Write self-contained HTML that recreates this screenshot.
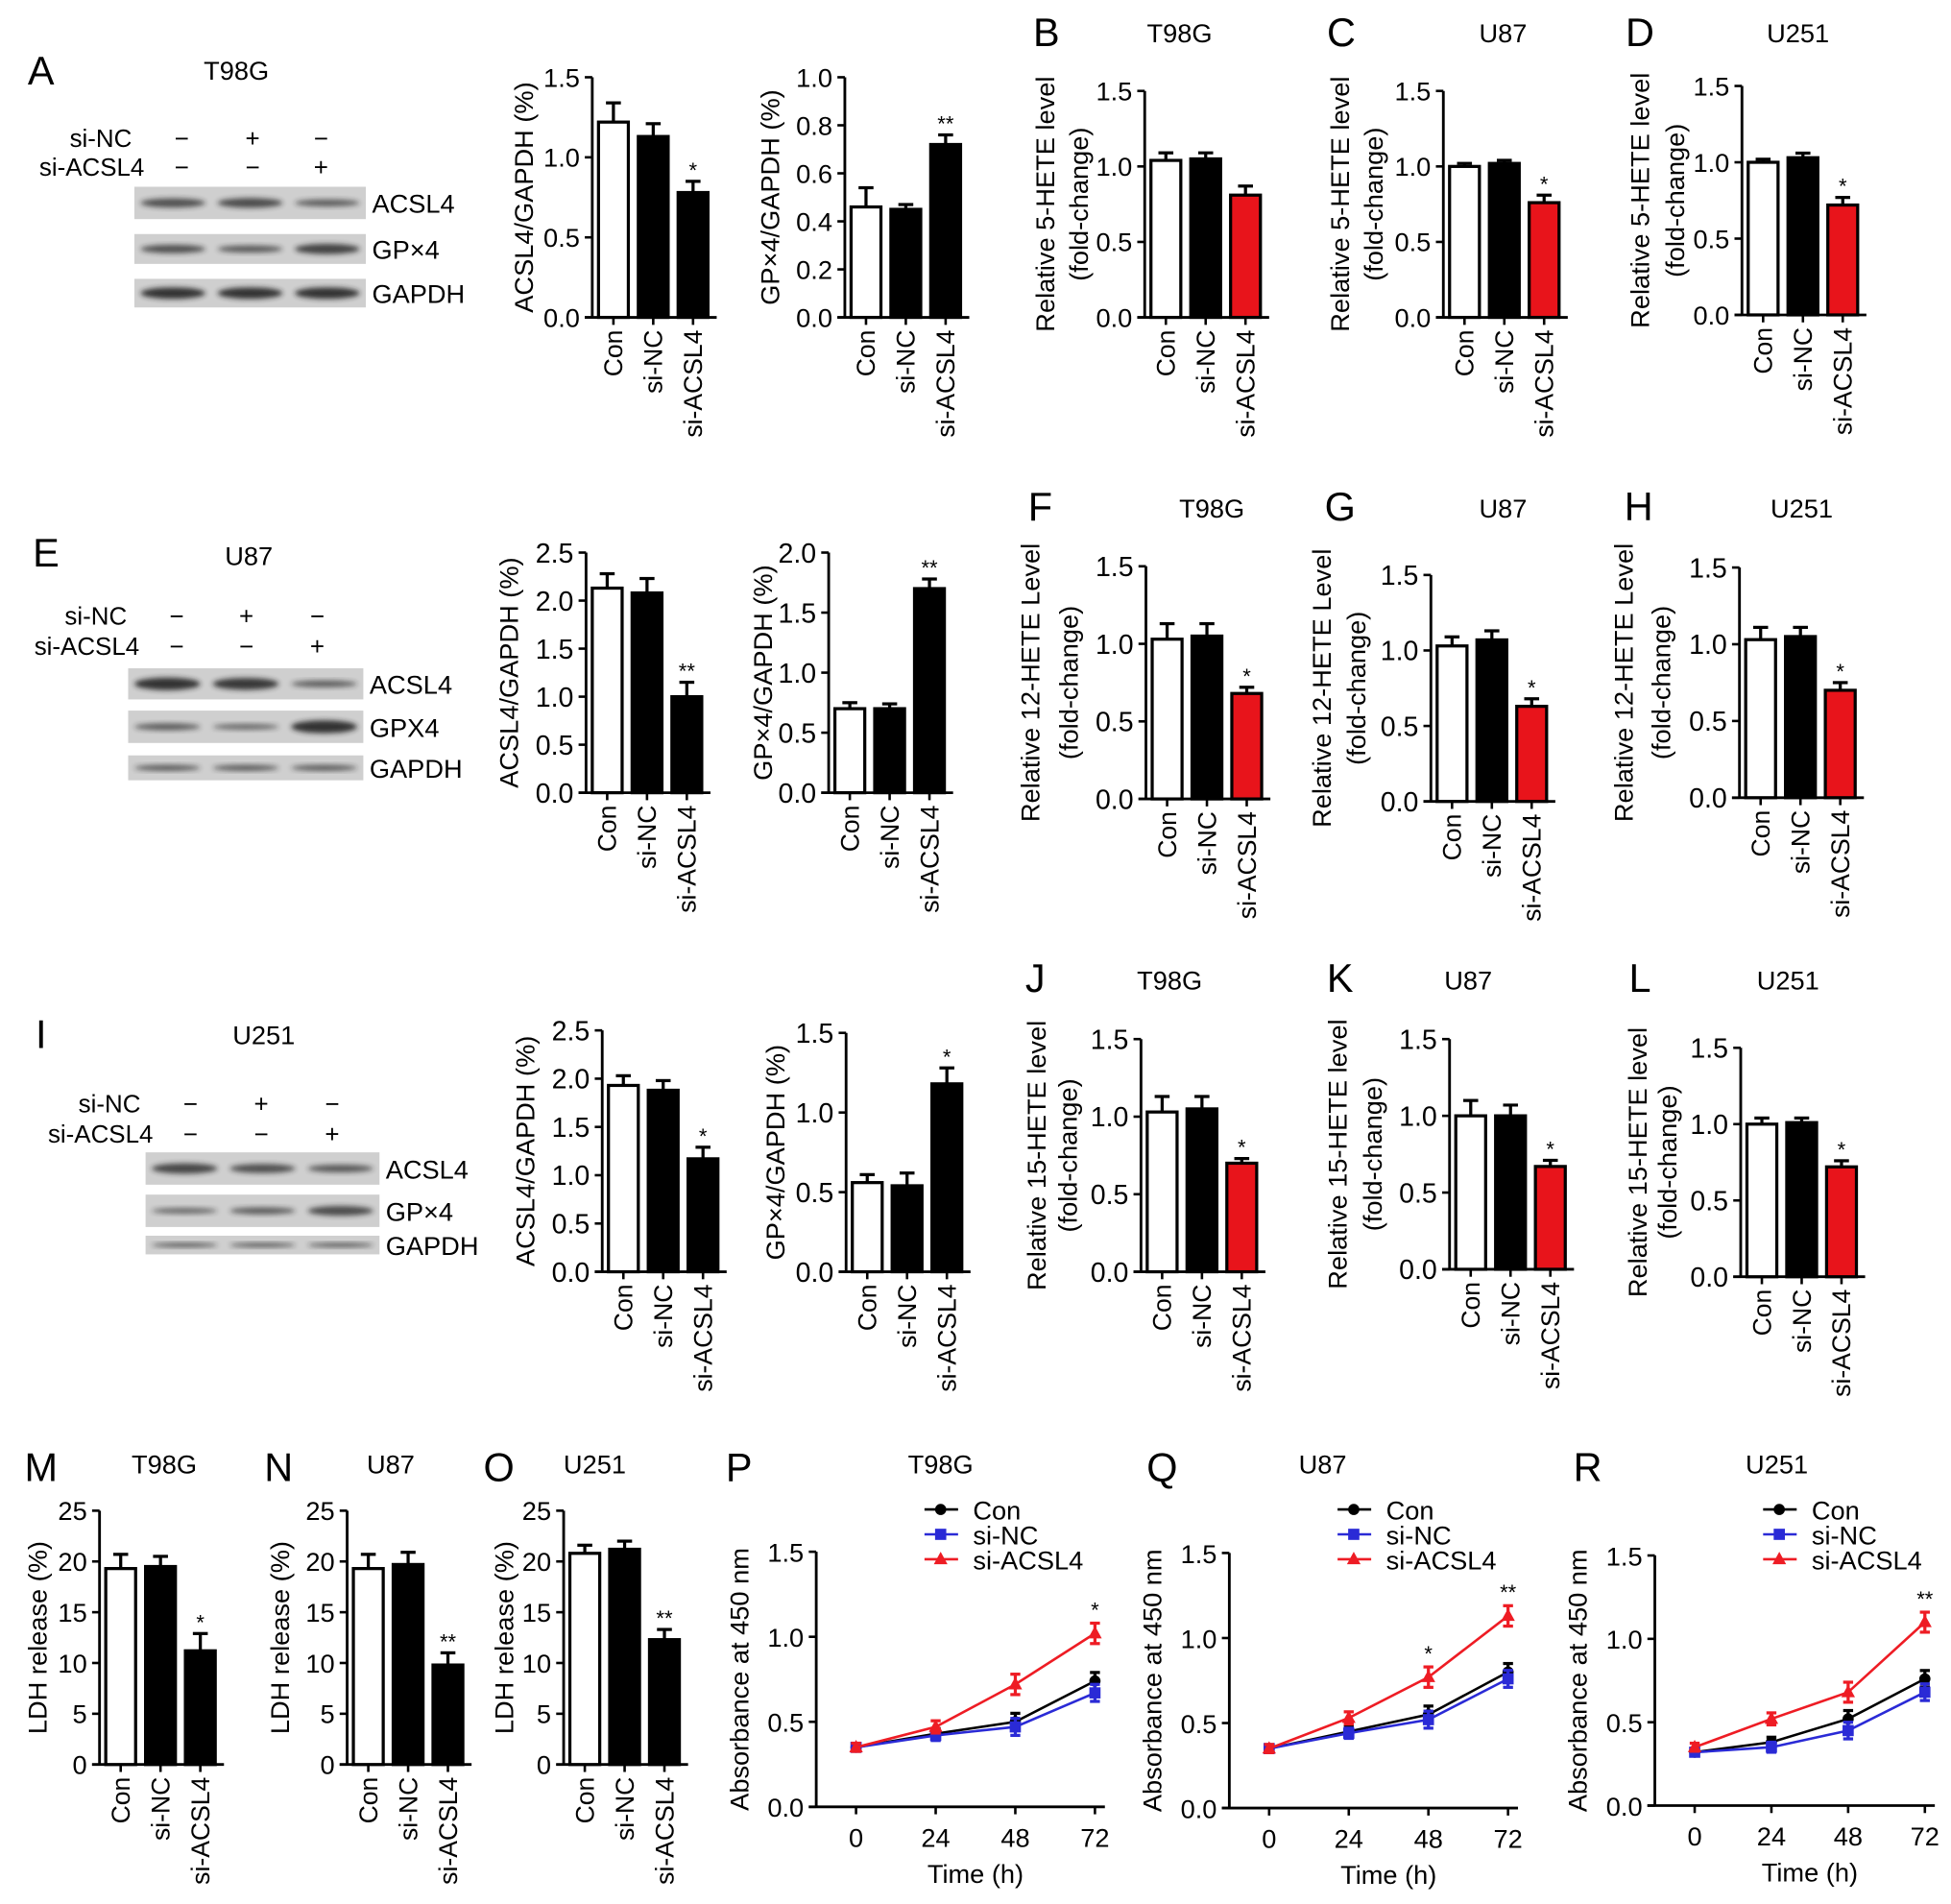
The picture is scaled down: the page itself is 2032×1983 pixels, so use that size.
<!DOCTYPE html>
<html><head><meta charset="utf-8"><style>
html,body{margin:0;padding:0;background:#fff;}
svg{display:block;font-family:"Liberation Sans",Arial,sans-serif;}
</style></head><body>
<svg id="fig" width="2032" height="1983" viewBox="0 0 1568 1530" xmlns="http://www.w3.org/2000/svg">
<defs><filter id="blur" x="-20%" y="-50%" width="140%" height="200%"><feGaussianBlur stdDeviation="2"/></filter></defs>
</svg>
<script>
const categories=["Con","si-NC","si-ACSL4"];
const timeLabels=[0,24,48,72];
const seriesNames=["Con","si-NC","si-ACSL4"];
// bar values
const valsA1=[1.22,1.13,0.78], errA1=[0.12,0.08,0.07];
const valsA2=[0.46,0.45,0.72], errA2=[0.08,0.02,0.04];
const valsB=[1.04,1.05,0.81], errB=[0.05,0.04,0.06];
const valsC=[1.0,1.02,0.76], errC=[0.02,0.02,0.05];
const valsD=[1.0,1.03,0.72], errD=[0.02,0.03,0.05];
const valsE1=[2.13,2.08,1.0], errE1=[0.15,0.15,0.15];
const valsE2=[0.70,0.70,1.70], errE2=[0.05,0.04,0.08];
const valsF=[1.03,1.05,0.68], errF=[0.10,0.08,0.04];
const valsG=[1.03,1.07,0.63], errG=[0.06,0.06,0.05];
const valsH=[1.03,1.05,0.70], errH=[0.08,0.06,0.05];
const valsI1=[1.93,1.88,1.17], errI1=[0.10,0.10,0.12];
const valsI2=[0.56,0.54,1.18], errI2=[0.05,0.08,0.10];
const valsJ=[1.03,1.05,0.70], errJ=[0.10,0.08,0.03];
const valsK=[1.0,1.0,0.67], errK=[0.10,0.07,0.04];
const valsL=[1.0,1.01,0.72], errL=[0.04,0.03,0.04];
const valsM=[19.3,19.5,11.2], errM=[1.4,1.0,1.7];
const valsN=[19.3,19.7,9.8], errN=[1.4,1.2,1.2];
const valsO=[20.8,21.2,12.3], errO=[0.8,0.8,1.0];
// line values
const conP=[0.35,0.43,0.50,0.74], ncP=[0.35,0.42,0.47,0.67], acP=[0.35,0.47,0.72,1.02];
const conQ=[0.35,0.45,0.55,0.80], ncQ=[0.35,0.44,0.52,0.76], acQ=[0.35,0.53,0.77,1.13];
const conR=[0.32,0.38,0.52,0.76], ncR=[0.32,0.35,0.45,0.68], acR=[0.35,0.52,0.68,1.10];
const errLine=[0.02,0.03,0.05,0.05];

const NS="http://www.w3.org/2000/svg";
const svg=document.getElementById('fig');
function el(tag,attrs,parent,text){const e=document.createElementNS(NS,tag);for(const k in attrs)e.setAttribute(k,attrs[k]);if(text!==undefined)e.textContent=text;(parent||svg).appendChild(e);return e;}
function grp(name){const g=el('g',{},svg);


return g;}
function txt(parent,x,y,s,size,anchor,name,extra){const t=el('text',Object.assign({x:x,y:y,'font-size':size,'text-anchor':anchor||'middle',fill:'#000'},extra||{}),parent,s);


return t;}
function vtxt(parent,cx,cy,s,size,anchor,name){const bx=cx+0.35*size;return txt(parent,bx,cy,s,size,anchor,name,{transform:`rotate(-90 ${bx} ${cy})`});}

function letter(x,y,s){txt(svg,x,y,s,32,'middle','panel-letter-'+s.toLowerCase());}

function barChart(id,c){
  const g=grp('bar-chart-'+id);
  const fs=c.fs||22;
  const ys=v=>c.y0-(v/c.max)*(c.y0-c.yTop);
  el('line',{x1:c.ax,y1:c.yTop,x2:c.ax,y2:c.y0,stroke:'#000','stroke-width':2.2},g);
  el('line',{x1:c.ax-6,y1:c.y0,x2:c.ax+100,y2:c.y0,stroke:'#000','stroke-width':2.2},g);
  for(let v=0;v<=c.max+1e-9;v+=c.step){const y=ys(v);
    el('line',{x1:c.ax-6,y1:y,x2:c.ax,y2:y,stroke:'#000','stroke-width':2},g);
    txt(g,c.ax-10,y+fs*0.36,v.toFixed(c.dec),fs,'end','y-tick-label');}
  const mid=(c.yTop+c.y0)/2;
  c.lc.forEach((off,i)=>{vtxt(g,c.ax+off,mid,c.ylab[i],21,'middle','y-axis-title');});
  c.vals.forEach((v,i)=>{
    const cx=c.ax+17+i*32, bx=cx-12;
    const fill=i===0?'#fff':(i===2&&c.red?'#e8141b':'#000');
    const r=el('rect',{x:bx,y:ys(v),width:24,height:c.y0-ys(v),fill:fill,stroke:'#000','stroke-width':2.5},g);
    
    
    const ye=ys(v+c.errs[i]);
    el('line',{x1:cx,y1:ys(v),x2:cx,y2:ye,stroke:'#000','stroke-width':2.5},g);
    el('line',{x1:cx-6,y1:ye,x2:cx+6,y2:ye,stroke:'#000','stroke-width':2.5},g);
    el('line',{x1:cx,y1:c.y0,x2:cx,y2:c.y0+6,stroke:'#000','stroke-width':2},g);
    if(i===2&&c.star)txt(g,cx,ye-3,c.star,17,'middle','significance-star');
    vtxt(g,cx,c.y0+10,categories[i],20.5,'end','x-tick-label');
  });
  if(c.title)txt(g,c.tx,c.ty,c.title,21,'middle','chart-title');
}

function blot(id,c){
  const g=grp('western-blot-'+id);
  txt(g,c.tx,c.ty,c.title,21,'middle','blot-title');
  txt(g,c.signX[0]-40,c.s1,'si-NC',20,'end','si-nc-label');
  txt(g,c.signX[0]-30,c.s2,'si-ACSL4',20,'end','si-acsl4-label');
  const s1=['−','+','−'],s2=['−','−','+'];
  c.signX.forEach((x,i)=>{txt(g,x,c.s1,s1[i],20,'middle','sign');txt(g,x,c.s2,s2[i],20,'middle','sign');});
  c.rows.forEach((r,j)=>{
    el('rect',{x:c.x0,y:r[0],width:c.x1-c.x0,height:r[1]-r[0],fill:'#cfcfcf'},g);
    const w=(c.x1-c.x0)/3;
    for(let i=0;i<3;i++){
      el('ellipse',{cx:c.x0+w*(i+0.5),cy:(r[0]+r[1])/2,rx:w*0.42,ry:(r[1]-r[0])*0.2*c.int[j][i],fill:'#222',opacity:0.35+0.55*c.int[j][i],filter:'url(#blur)'},g);
    }
    txt(g,c.x1+5,(r[0]+r[1])/2+8,c.names[j],21,'start','band-label');
  });
}

function lineChart(id,c){
  const g=grp('line-chart-'+id);
  const ys=v=>c.y0-(v/1.5)*(c.y0-c.yTop);
  const xs=t=>c.x0+(t/72)*(c.x72-c.x0);
  el('line',{x1:c.ax,y1:c.yTop,x2:c.ax,y2:c.y0,stroke:'#000','stroke-width':2.2},g);
  el('line',{x1:c.ax-6,y1:c.y0,x2:c.x72+8,y2:c.y0,stroke:'#000','stroke-width':2.2},g);
  for(let v=0;v<=1.5001;v+=0.5){const y=ys(v);el('line',{x1:c.ax-6,y1:y,x2:c.ax,y2:y,stroke:'#000','stroke-width':2},g);txt(g,c.ax-10,y+8,v.toFixed(1),21,'end','y-tick-label');}
  timeLabels.forEach(t=>{const x=xs(t);el('line',{x1:x,y1:c.y0,x2:x,y2:c.y0+6,stroke:'#000','stroke-width':2},g);txt(g,x,c.y0+32,String(t),21,'middle','x-tick-label');});
  txt(g,(c.x0+c.x72)/2,c.y0+61,'Time (h)',21,'middle','x-axis-title');
  const mid=(c.yTop+c.y0)/2;
  vtxt(g,c.ax-62,mid,'Absorbance at 450 nm',21,'middle','y-axis-title');
  const cols=['#000','#2a2ad6','#ee1c24'];
  [c.con,c.nc,c.ac].forEach((s,k)=>{
    const pts=s.map((v,i)=>xs(timeLabels[i])+','+ys(v)).join(' ');
    const pl=el('polyline',{points:pts,fill:'none',stroke:cols[k],'stroke-width':2},g);
    
    
    s.forEach((v,i)=>{const x=xs(timeLabels[i]),y=ys(v),e=errLine[i]*(k===2?1.2:1);
      el('line',{x1:x,y1:ys(v-e),x2:x,y2:ys(v+e),stroke:cols[k],'stroke-width':2.5},g);
      el('line',{x1:x-4,y1:ys(v+e),x2:x+4,y2:ys(v+e),stroke:cols[k],'stroke-width':2.5},g);
      el('line',{x1:x-4,y1:ys(v-e),x2:x+4,y2:ys(v-e),stroke:cols[k],'stroke-width':2.5},g);
      marker(g,k,x,y,cols[k]);
    });
  });
  c.stars.forEach(([i,s])=>{const x=xs(timeLabels[i]);txt(g,x,ys(c.ac[i]+0.08)-2,s,17,'middle','significance-star');});
  const lx=c.x0+55;
  seriesNames.forEach((n,k)=>{const y=c.ly+k*20;
    el('line',{x1:lx,y1:y,x2:lx+27,y2:y,stroke:cols[k],'stroke-width':2},g);
    marker(g,k,lx+13,y,cols[k]);
    txt(g,c.x0+94,y+8,n,21,'start','legend-entry');});
  txt(g,c.tx,c.ty,c.title,21,'middle','chart-title');
}
function marker(g,k,x,y,col){
  if(k===0)el('circle',{cx:x,cy:y,r:4.5,fill:col},g);
  else if(k===1)el('rect',{x:x-4.5,y:y-4.5,width:9,height:9,fill:col},g);
  else el('polygon',{points:`${x},${y-6} ${x-5.5},${y+4} ${x+5.5},${y+4}`,fill:col},g);
}
const Y1=['ACSL4/GAPDH (%)'], Y2=['GP×4/GAPDH (%)'];
const H5=['Relative 5-HETE level','(fold-change)'], H12=['Relative 12-HETE Level','(fold-change)'], H15=['Relative 15-HETE level','(fold-change)'];

// Row 1
letter(33,68,'A');
blot('a',{title:'T98G',tx:190,ty:64,s1:118,s2:141,signX:[146,203,258],x0:108,x1:294,
  rows:[[150,176],[188,212],[224,247]],names:['ACSL4','GP×4','GAPDH'],
  int:[[0.7,0.75,0.55],[0.7,0.6,0.85],[1,1,1]]});
barChart('a1',{ax:476,y0:255,yTop:62,max:1.5,step:0.5,dec:1,fs:21,vals:valsA1,errs:errA1,star:'*',ylab:Y1,lc:[-55]});
barChart('a2',{ax:679,y0:255,yTop:62,max:1.0,step:0.2,dec:1,fs:21,vals:valsA2,errs:errA2,star:'**',ylab:Y2,lc:[-60]});
letter(841,37,'B');
barChart('b',{ax:920,y0:255,yTop:73,max:1.5,step:0.5,dec:1,fs:21,vals:valsB,errs:errB,red:true,ylab:H5,lc:[-80,-53],title:'T98G',tx:948,ty:34});
letter(1078,37,'C');
barChart('c',{ax:1160,y0:255,yTop:73,max:1.5,step:0.5,dec:1,fs:21,vals:valsC,errs:errC,red:true,star:'*',ylab:H5,lc:[-83,-56],title:'U87',tx:1208,ty:34});
letter(1318,37,'D');
barChart('d',{ax:1400,y0:253,yTop:69,max:1.5,step:0.5,dec:1,fs:21,vals:valsD,errs:errD,red:true,star:'*',ylab:H5,lc:[-82,-54],title:'U251',tx:1445,ty:34});

// Row 2
letter(37,455,'E');
blot('e',{title:'U87',tx:200,ty:454,s1:502,s2:526,signX:[142,198,255],x0:103,x1:292,
  rows:[[537,562],[571,597],[607,627]],names:['ACSL4','GPX4','GAPDH'],
  int:[[1,0.95,0.55],[0.55,0.45,1],[0.6,0.6,0.6]]});
barChart('e1',{ax:471,y0:637,yTop:444,max:2.5,step:0.5,dec:1,vals:valsE1,errs:errE1,star:'**',ylab:Y1,lc:[-62]});
barChart('e2',{ax:666,y0:637,yTop:444,max:2.0,step:0.5,dec:1,vals:valsE2,errs:errE2,star:'**',ylab:Y2,lc:[-53]});
letter(836,418,'F');
barChart('f',{ax:921,y0:642,yTop:455,max:1.5,step:0.5,dec:1,vals:valsF,errs:errF,red:true,star:'*',ylab:H12,lc:[-93,-62],title:'T98G',tx:974,ty:416});
letter(1077,418,'G');
barChart('g',{ax:1150,y0:644,yTop:462,max:1.5,step:0.5,dec:1,vals:valsG,errs:errG,red:true,star:'*',ylab:H12,lc:[-88,-60],title:'U87',tx:1208,ty:416});
letter(1317,418,'H');
barChart('h',{ax:1398,y0:641,yTop:456,max:1.5,step:0.5,dec:1,vals:valsH,errs:errH,red:true,star:'*',ylab:H12,lc:[-93,-63],title:'U251',tx:1448,ty:416});

// Row 3
letter(33,842,'I');
blot('i',{title:'U251',tx:212,ty:839,s1:894,s2:918,signX:[153,210,267],x0:117,x1:305,
  rows:[[926,952],[960,986],[993,1008]],names:['ACSL4','GP×4','GAPDH'],
  int:[[0.8,0.7,0.6],[0.45,0.55,0.75],[0.6,0.6,0.6]]});
barChart('i1',{ax:484,y0:1022,yTop:828,max:2.5,step:0.5,dec:1,vals:valsI1,errs:errI1,star:'*',ylab:Y1,lc:[-62]});
barChart('i2',{ax:680,y0:1022,yTop:830,max:1.5,step:0.5,dec:1,vals:valsI2,errs:errI2,star:'*',ylab:Y2,lc:[-57]});
letter(832,797,'J');
barChart('j',{ax:917,y0:1022,yTop:835,max:1.5,step:0.5,dec:1,vals:valsJ,errs:errJ,red:true,star:'*',ylab:H15,lc:[-84,-59],title:'T98G',tx:940,ty:795});
letter(1077,797,'K');
barChart('k',{ax:1165,y0:1020,yTop:835,max:1.5,step:0.5,dec:1,vals:valsK,errs:errK,red:true,star:'*',ylab:H15,lc:[-90,-62],title:'U87',tx:1180,ty:795});
letter(1318,797,'L');
barChart('l',{ax:1399,y0:1026,yTop:842,max:1.5,step:0.5,dec:1,vals:valsL,errs:errL,red:true,star:'*',ylab:H15,lc:[-83,-59],title:'U251',tx:1437,ty:795});

// Row 4
letter(33,1190,'M');
barChart('m',{ax:80,y0:1418,yTop:1214,max:25,step:5,dec:0,fs:21,vals:valsM,errs:errM,star:'*',ylab:['LDH release (%)'],lc:[-50],title:'T98G',tx:132,ty:1184});
letter(224,1190,'N');
barChart('n',{ax:279,y0:1418,yTop:1214,max:25,step:5,dec:0,fs:21,vals:valsN,errs:errN,star:'**',ylab:['LDH release (%)'],lc:[-54],title:'U87',tx:314,ty:1184});
letter(401,1190,'O');
barChart('o',{ax:453,y0:1418,yTop:1214,max:25,step:5,dec:0,fs:21,vals:valsO,errs:errO,star:'**',ylab:['LDH release (%)'],lc:[-48],title:'U251',tx:478,ty:1184});
letter(594,1190,'P');
lineChart('p',{ax:656,x0:688,x72:880,y0:1452,yTop:1247,con:conP,nc:ncP,ac:acP,stars:[[3,'*']],ly:1213,title:'T98G',tx:756,ty:1184});
letter(934,1190,'Q');
lineChart('q',{ax:988,x0:1020,x72:1212,y0:1453,yTop:1248,con:conQ,nc:ncQ,ac:acQ,stars:[[2,'*'],[3,'**']],ly:1213,title:'U87',tx:1063,ty:1184});
letter(1276,1190,'R');
lineChart('r',{ax:1330,x0:1362,x72:1547,y0:1451,yTop:1250,con:conR,nc:ncR,ac:acR,stars:[[3,'**']],ly:1213,title:'U251',tx:1428,ty:1184});
</script>
</body></html>
